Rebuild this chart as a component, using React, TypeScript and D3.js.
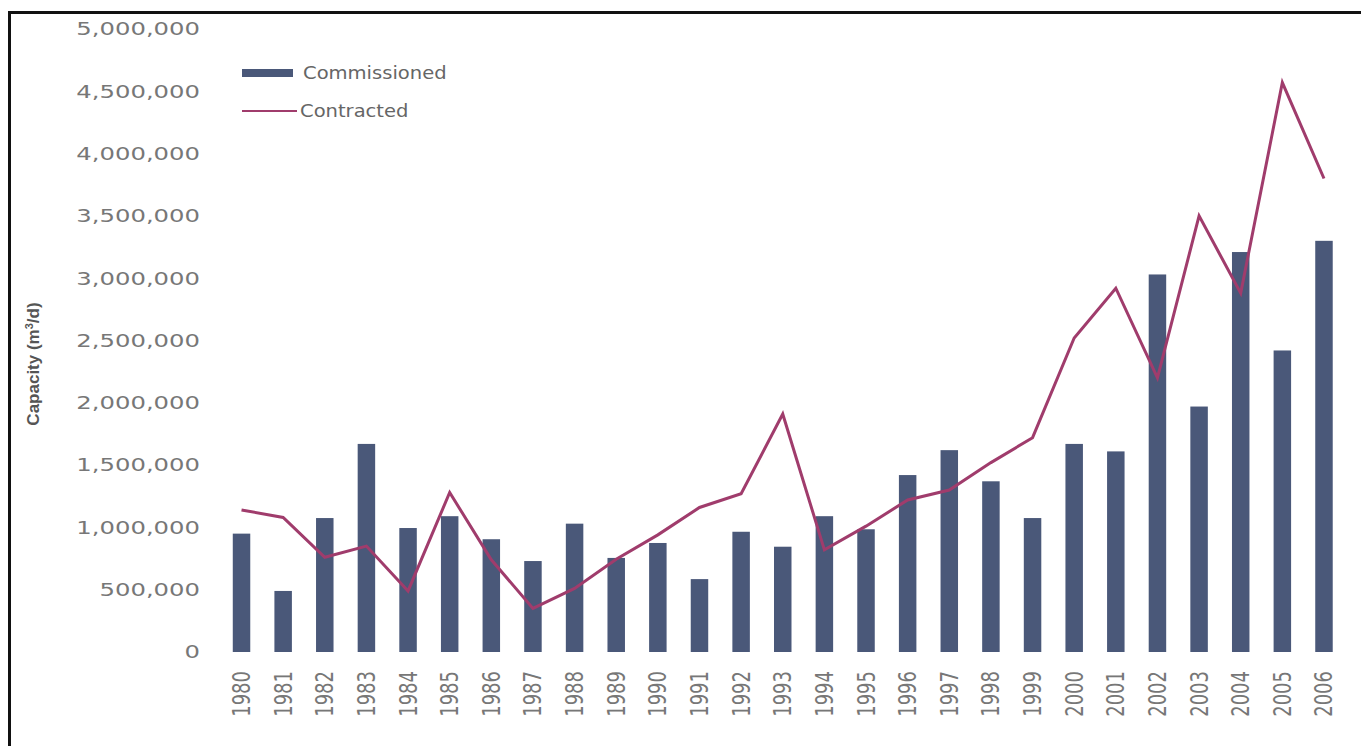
import * as React from 'react';
import * as d3 from 'd3';

const years = ['1980', '1981', '1982', '1983', '1984', '1985', '1986', '1987', '1988', '1989', '1990', '1991', '1992', '1993', '1994', '1995', '1996', '1997', '1998', '1999', '2000', '2001', '2002', '2003', '2004', '2005', '2006'];
const commissioned = [950000, 490000, 1075000, 1670000, 995000, 1090000, 905000, 730000, 1030000, 755000, 875000, 585000, 965000, 845000, 1090000, 985000, 1420000, 1620000, 1370000, 1075000, 1670000, 1610000, 3030000, 1970000, 3210000, 2420000, 3300000];
const contracted = [1140000, 1080000, 760000, 850000, 490000, 1280000, 740000, 350000, 510000, 745000, 940000, 1160000, 1270000, 1910000, 820000, 1010000, 1220000, 1300000, 1520000, 1720000, 2520000, 2920000, 2200000, 3500000, 2880000, 4570000, 3800000];
const yTicks = [0, 500000, 1000000, 1500000, 2000000, 2500000, 3000000, 3500000, 4000000, 4500000, 5000000];
const legendLabels = ['Commissioned', 'Contracted'];

const W = 1361;
const H = 746;
const barColor = '#4a5879';
const lineColor = '#a03c6c';
const font = '"DejaVu Sans", sans-serif';
const stretch = 1.35;

export default function App() {
    const ref = React.useRef<SVGSVGElement>(null);

    React.useEffect(() => {
        const svg = d3.select(ref.current);
        svg.selectAll('*').remove();

        const x = d3.scaleBand()
            .domain(years)
            .range([220.7, 1344.8])
            .paddingInner(0.58)
            .paddingOuter(0.29);
        const y = d3.scaleLinear()
            .domain([0, 5000000])
            .range([652, 29]);

        // frame (left + top edges of the scanned figure)
        svg.append('path')
            .attr('d', `M9.5,${H} L9.5,12.5 L${W},12.5`)
            .attr('fill', 'none')
            .attr('stroke', '#111')
            .attr('stroke-width', 3);

        // y tick labels
        const fmt = d3.format(',');
        svg.append('g')
            .selectAll('text')
            .data(yTicks)
            .join('text')
                .attr('transform', d => `translate(200, ${y(d)}) scale(${stretch}, 1)`)
                .attr('text-anchor', 'end')
                .attr('dy', '0.35em')
                .attr('font-family', font)
                .attr('font-size', 18)
                .attr('fill', '#777')
                .text(d => fmt(d));

        // y axis title
        const title = svg.append('text')
            .attr('transform', 'translate(33, 364) rotate(-90)')
            .attr('text-anchor', 'middle')
            .attr('dy', '0.35em')
            .attr('font-family', '"Liberation Sans", Arial, sans-serif')
            .attr('font-weight', 'bold')
            .attr('font-size', 17)
            .attr('fill', '#555');
        title.append('tspan').text('Capacity (m');
        title.append('tspan').attr('font-size', 11).attr('baseline-shift', 'super').text('3');
        title.append('tspan').text('/d)');

        // bars
        svg.append('g')
            .selectAll('rect')
            .data(commissioned)
            .join('rect')
                .attr('x', (d, i) => x(years[i])!)
                .attr('y', d => y(d))
                .attr('width', x.bandwidth())
                .attr('height', d => y(0) - y(d))
                .attr('fill', barColor);

        // contracted line
        const line = d3.line<number>()
            .x((d, i) => x(years[i])! + x.bandwidth() / 2)
            .y(d => y(d));
        svg.append('path')
            .attr('d', line(contracted))
            .attr('fill', 'none')
            .attr('stroke', lineColor)
            .attr('stroke-width', 3)
            .attr('stroke-linejoin', 'miter');

        // year labels: rotate first, then stretch horizontally in the outer group
        svg.append('g')
            .selectAll('g')
            .data(years)
            .join('g')
                .attr('transform', d => `translate(${x(d)! + x.bandwidth() / 2}, 671) scale(${stretch}, 1)`)
            .append('text')
                .attr('transform', 'rotate(-90)')
                .attr('text-anchor', 'end')
                .attr('dy', '0.35em')
                .attr('font-family', font)
                .attr('font-size', 18)
                .attr('fill', '#777')
                .text(d => d);

        // legend
        const legend = svg.append('g');
        legend.append('rect')
            .attr('x', 242)
            .attr('y', 69)
            .attr('width', 51)
            .attr('height', 8)
            .attr('fill', barColor);
        legend.append('line')
            .attr('x1', 242)
            .attr('x2', 297)
            .attr('y1', 111)
            .attr('y2', 111)
            .attr('stroke', lineColor)
            .attr('stroke-width', 2);
        legend.selectAll('text')
            .data(legendLabels)
            .join('text')
                .attr('transform', (d, i) => `translate(${i === 0 ? 303 : 300}, ${73 + i * 38}) scale(1.15, 1)`)
                .attr('dy', '0.35em')
                .attr('font-family', font)
                .attr('font-size', 17)
                .attr('fill', '#666')
                .text(d => d);
    }, []);

    return (
        <svg
            ref={ref}
            width={W}
            height={H}
            style={{ position: 'absolute', left: 0, top: 0, background: '#fff' }}
        />
    );
}
